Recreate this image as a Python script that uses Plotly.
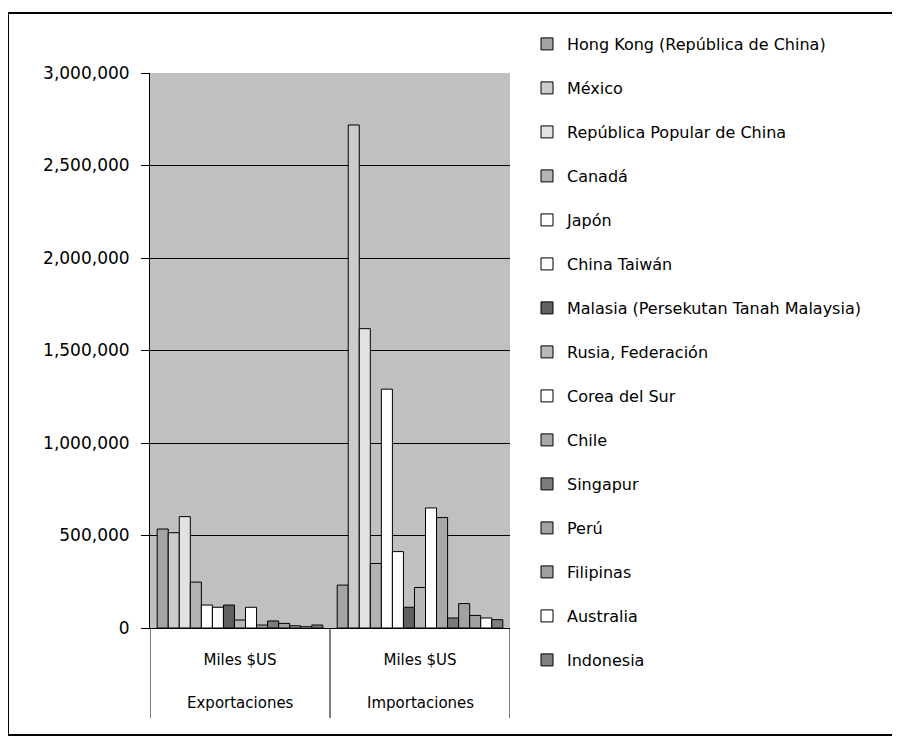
import plotly.graph_objects as go

groups = ["Exportaciones", "Importaciones"]
units = ["Miles $US", "Miles $US"]

countries = [
    "Hong Kong (República de China)",
    "México",
    "República Popular de China",
    "Canadá",
    "Japón",
    "China Taiwán",
    "Malasia (Persekutan Tanah Malaysia)",
    "Rusia, Federación",
    "Corea del Sur",
    "Chile",
    "Singapur",
    "Perú",
    "Filipinas",
    "Australia",
    "Indonesia",
]

exportaciones = [535000, 515000, 602000, 248000, 124000, 112000, 124000, 43000,
                 112000, 16000, 38000, 25000, 12000, 7000, 16000]
importaciones = [232000, 2719000, 1618000, 349000, 1291000, 413000, 112000, 219000,
                 649000, 597000, 54000, 132000, 68000, 54000, 45000]

colors = ["#a4a4a4", "#cccccc", "#e2e2e2", "#b4b4b4", "#ffffff", "#fbfbfb",
          "#606060", "#b8b8b8", "#ffffff", "#a8a8a8", "#7c7c7c", "#a2a2a2",
          "#a0a0a0", "#ffffff", "#808080"]

y_ticks = [0, 500000, 1000000, 1500000, 2000000, 2500000, 3000000]

FONT = "DejaVu Sans, Verdana, sans-serif"

# figure geometry (page has an 8px body margin)
W, H = 892, 734
L, T = 142, 65
PW, PH = 360, 555
R = W - L - PW
B = H - T - PH

def px_to_paper_x(px):
    return (px - 8 - L) / PW

def px_to_paper_y(py):
    return (T + PH - (py - 8)) / PH

fig = go.Figure()
for i, name in enumerate(countries):
    fig.add_trace(go.Bar(
        x=groups,
        y=[exportaciones[i], importaciones[i]],
        name=name,
        legendgroup=name,
        marker=dict(color=colors[i], line=dict(color="black", width=1)),
    ))

shapes = [dict(
    type="rect", xref="paper", yref="paper",
    x0=px_to_paper_x(8), x1=px_to_paper_x(897),
    y0=px_to_paper_y(735), y1=px_to_paper_y(13),
    line=dict(color="black", width=2), fillcolor="rgba(0,0,0,0)",
    layer="below",
)]
for xv in [-0.5, 0.5, 1.5]:
    shapes.append(dict(
        type="line", xref="x", yref="paper",
        x0=xv, x1=xv, y0=0, y1=px_to_paper_y(718),
        line=dict(color="black", width=1),
    ))

annotations = []
for g in groups:
    annotations.append(dict(
        x=g, xref="x", y=px_to_paper_y(703), yref="paper",
        text=g, showarrow=False, xanchor="center", yanchor="middle",
        font=dict(family=FONT, size=15, color="black"),
    ))

fig.update_layout(
    width=W, height=H,
    margin=dict(l=L, r=R, t=T, b=B),
    paper_bgcolor="white",
    plot_bgcolor="#c0c0c0",
    barmode="group",
    bargap=0.08,
    bargroupgap=0,
    font=dict(family=FONT, size=15, color="black"),
    showlegend=True,
    legend=dict(
        x=px_to_paper_x(527), xanchor="left",
        y=px_to_paper_y(27), yanchor="top",
        traceorder="grouped", tracegroupgap=20.2,
        font=dict(family=FONT, size=16), bgcolor="rgba(0,0,0,0)",
        maxheight=720,
    ),
    xaxis=dict(
        type="category",
        range=[-0.5, 1.5],
        tickvals=groups, ticktext=units,
        showline=True, linecolor="black", linewidth=1,
        ticks="outside", ticklen=18, tickcolor="rgba(0,0,0,0)",
        tickfont=dict(family=FONT, size=15),
        showgrid=False,
    ),
    yaxis=dict(
        range=[0, 3000000],
        tickvals=y_ticks,
        tickformat=",",
        showgrid=True, gridcolor="black", gridwidth=1,
        showline=True, linecolor="black", linewidth=1,
        ticks="outside", ticklen=8, tickcolor="black",
        ticklabelstandoff=8,
        tickfont=dict(family=FONT, size=17),
        zeroline=False,
    ),
    shapes=shapes,
    annotations=annotations,
)

fig.write_html("out.html")
